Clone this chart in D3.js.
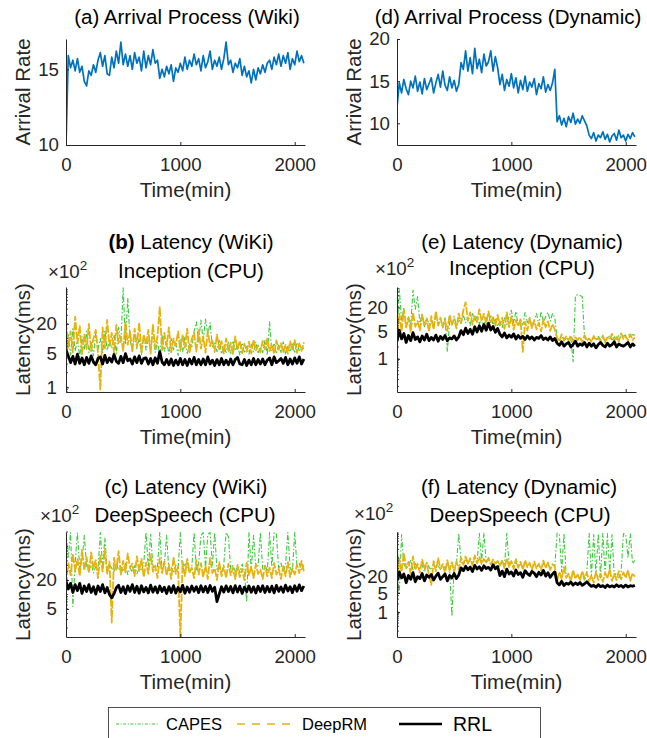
<!DOCTYPE html>
<html>
<head>
<meta charset="utf-8">
<script src="https://cdn.jsdelivr.net/npm/d3@7"></script>
<style>
body { margin: 0; background: #fff; }
text { font-family: "Liberation Sans", Arial, Helvetica, sans-serif; }
</style>
</head>
<body>
<div id="chart-area"></div>
<script>
// sampled every 20 min, 0..2080
var times = d3.range(0, 2081, 20);

var wikiArrival = [10, 15.9, 15.1, 15.6, 14.9, 15.7, 14.8, 15.2, 14.2, 13.9,
    14.9, 14.6, 15.3, 14.8, 15.6, 16.1, 15.2, 15.9, 14.7, 14.6,
    15.8, 15.1, 16.2, 15.4, 16.8, 15.3, 16.0, 15.2, 15.9, 15.0,
    16.1, 15.4, 15.8, 14.9, 16.2, 15.1, 15.9, 15.3, 16.3, 15.4,
    15.6, 14.4, 15.0, 14.5, 15.2, 14.7, 15.3, 14.2, 15.1, 14.8,
    15.4, 14.9, 15.8, 15.0, 15.6, 15.2, 16.0, 15.3, 15.7, 14.9,
    15.9, 15.1, 15.5, 16.2, 15.0, 15.6, 15.2, 15.8, 15.0, 15.7,
    16.8, 15.3, 15.6, 14.8, 15.4, 15.1, 15.7, 14.6, 15.2, 14.5,
    14.9, 14.1, 15.0, 14.3, 15.1, 14.7, 15.3, 14.8, 15.4, 15.6,
    15.0, 15.8, 15.3, 16.0, 15.2, 15.9, 15.4, 16.1, 15.0, 15.7,
    15.3, 16.2, 15.5, 15.9, 15.4];

var dynArrival = [11.9, 14.8, 13.6, 15.2, 14.1, 13.4, 15.0, 14.2, 15.6, 13.8,
    14.9, 13.5, 15.3, 14.0, 14.7, 15.4, 13.6, 14.8, 15.8, 14.3,
    16.2, 14.5, 13.9, 15.5, 14.2, 15.1, 13.8, 14.6, 17.2, 16.4,
    18.6, 16.2, 17.8, 15.9, 18.9, 16.5, 17.6, 16.0, 18.2, 16.8,
    17.3, 18.6, 16.2, 17.9, 16.6, 14.6, 15.8, 13.9, 15.2, 14.4,
    15.9, 14.2, 15.4, 13.6, 15.1, 14.0, 15.6, 13.8, 14.9, 14.3,
    15.3, 13.4, 14.7, 14.1, 15.5, 13.7, 14.6, 13.9, 14.8, 16.4,
    10.2, 10.9, 9.8, 10.6, 9.6, 10.8, 10.1, 11.2, 9.9, 10.5,
    10.0, 10.9, 10.3, 9.7, 8.6, 8.2, 8.9, 7.9, 8.6, 8.3,
    9.0, 8.1, 8.7, 7.8, 8.5, 8.8, 8.0, 9.2, 8.3, 8.6,
    7.9, 8.7, 8.2, 8.9, 8.4];

// latency values in units of 10^2 ms
var wikiIncRRL = [5.8, 4.4, 3.2, 4.3, 3.0, 4.8, 3.1, 4.0, 2.9, 4.1,
    3.1, 4.4, 3.3, 2.9, 3.9, 4.2, 3.0, 4.5, 3.2, 4.0,
    3.3, 4.7, 3.4, 3.1, 4.3, 3.2, 4.9, 3.5, 3.8, 3.0,
    4.2, 3.2, 4.4, 3.1, 3.9, 4.0, 3.0, 3.9, 2.9, 4.0,
    3.1, 5.4, 3.3, 2.9, 3.7, 2.9, 3.8, 2.8, 3.6, 2.9,
    3.9, 2.9, 3.7, 2.8, 3.8, 3.0, 4.1, 2.9, 3.7, 2.9,
    3.8, 2.9, 4.2, 3.0, 3.6, 2.8, 3.7, 2.9, 3.9, 2.9,
    3.6, 2.9, 3.8, 2.9, 3.7, 4.1, 3.0, 2.9, 3.7, 2.8,
    3.6, 2.9, 3.9, 2.9, 3.7, 3.0, 3.8, 2.9, 3.6, 4.0,
    2.9, 4.2, 3.2, 3.5, 3.9, 3.1, 4.1, 2.9, 3.8, 3.0,
    4.0, 3.1, 4.2, 3.0, 3.8];
var wikiIncDeepRM = [22, 6.5, 14, 5.2, 28, 8.0, 18, 4.8, 12, 6.1,
    20, 5.5, 10, 15, 4.9, 0.9, 17, 6.3, 24, 7.2,
    13, 5.0, 19, 8.1, 11, 5.6, 22, 7.4, 14, 5.3,
    16, 6.8, 21, 5.1, 12, 7.6, 15, 4.9, 19, 6.4,
    11, 44, 5.8, 13, 6.9, 17, 5.2, 10, 7.1, 14,
    5.6, 12, 6.5, 16, 5.0, 9.8, 13, 5.4, 15, 6.2,
    11, 5.1, 14, 7.0, 9.5, 5.3, 12, 6.0, 8.8, 4.9,
    10, 5.6, 8.2, 4.8, 11, 6.1, 9.0, 5.0, 7.8, 5.4,
    8.6, 4.9, 9.4, 5.7, 7.2, 5.2, 8.9, 6.0, 10, 5.5,
    7.6, 4.8, 9.1, 5.9, 8.0, 5.3, 7.4, 4.9, 8.7, 5.8,
    9.3, 5.1, 7.9, 5.6, 8.4];
var wikiIncCAPES = [2.3, 12, 4.6, 16, 5.5, 9.5, 4.2, 11, 5.9, 14,
    5.1, 8.7, 4.4, 13, 6.0, 10, 4.8, 15, 5.7, 9.2,
    6.3, 12, 4.9, 17, 8.0, 110, 7.5, 68, 9.8, 5.4,
    13, 6.1, 10, 4.7, 12, 5.8, 9.4, 6.6, 11, 5.2,
    8.3, 4.6, 12, 5.5, 9.0, 4.8, 10, 5.9, 8.2, 4.5,
    9.6, 5.3, 11, 4.9, 7.8, 6.4, 14, 22, 8.5, 24,
    9.1, 25, 12, 21, 6.8, 8.0, 5.4, 9.7, 4.8, 7.1,
    5.2, 8.4, 4.7, 9.0, 5.6, 7.3, 4.6, 8.1, 5.0, 6.9,
    4.8, 7.7, 5.3, 8.5, 4.9, 6.8, 5.1, 9.2, 4.6, 22,
    5.5, 8.0, 4.9, 7.4, 5.2, 8.6, 4.7, 6.9, 5.3, 7.8,
    5.0, 8.2, 5.6, 7.0, 6.1];

var dynIncRRL = [2.8, 5.3, 3.2, 4.4, 2.6, 3.9, 2.9, 4.6, 3.1, 3.6,
    2.7, 3.8, 3.0, 4.2, 2.9, 3.5, 3.0, 4.0, 2.8, 3.7,
    3.1, 3.9, 2.9, 3.4, 3.2, 3.8, 3.0, 3.6, 5.2, 4.1,
    6.0, 4.4, 5.6, 4.2, 6.5, 4.8, 6.9, 5.0, 7.4, 5.3,
    8.0, 5.4, 6.6, 4.7, 5.9, 4.2, 3.6, 4.5, 3.4, 4.0,
    3.5, 4.3, 3.2, 3.9, 3.3, 3.7, 3.1, 3.8, 3.2, 3.6,
    3.0, 3.5, 3.3, 3.9, 3.1, 3.4, 3.0, 3.6, 2.9, 3.3,
    2.5, 2.2, 2.7, 2.1, 2.4, 2.6, 2.0, 2.3, 2.8, 2.1,
    2.4, 2.2, 2.6, 2.0, 2.5, 2.1, 2.4, 1.9, 2.3, 2.6,
    2.2, 2.0, 2.5, 2.1, 2.3, 2.7, 2.0, 2.4, 2.2, 2.1,
    2.3, 2.6, 2.0, 2.4, 2.1];
var dynIncDeepRM = [2.5, 14, 5.0, 18, 6.2, 11, 4.8, 15, 6.5, 9.0,
    5.3, 13, 6.8, 10, 4.9, 12, 5.6, 16, 7.0, 11,
    6.2, 9.5, 5.1, 13, 7.3, 10, 5.9, 14, 8.0, 17,
    27, 9.2, 15, 7.4, 12, 8.6, 18, 9.0, 14, 7.8,
    16, 8.4, 12, 6.9, 13, 7.0, 11, 5.8, 15, 6.4,
    12, 5.5, 9.6, 6.7, 10, 1.5, 8.8, 5.2, 11, 6.0,
    9.4, 5.6, 8.2, 4.9, 10, 6.3, 8.9, 5.1, 7.6, 5.4,
    3.4, 2.8, 4.2, 3.0, 3.7, 2.9, 3.9, 2.7, 3.5, 3.0,
    3.6, 2.6, 4.0, 2.9, 3.3, 2.7, 3.8, 3.0, 3.4, 2.8,
    3.9, 2.6, 3.5, 3.1, 4.3, 2.9, 3.6, 2.8, 4.4, 3.2,
    3.7, 2.9, 4.2, 3.0, 3.5];
var dynIncCAPES = [4.0, 60, 9.0, 20, 6.0, 12, 7.0, 55, 18, 38,
    8.0, 14, 6.5, 11, 7.5, 9.5, 6.0, 13, 7.2, 10,
    6.8, 11, 1.5, 9.0, 7.0, 12, 6.4, 10, 7.8, 13,
    8.2, 11, 7.0, 14, 9.0, 12, 7.6, 10, 6.8, 11,
    8.0, 13, 7.2, 10, 6.6, 9.0, 6.2, 11, 7.4, 12,
    17, 8.0, 16, 6.9, 10, 7.2, 15, 8.4, 11, 6.5,
    9.8, 14, 7.0, 16, 8.0, 12, 15, 9.0, 14, 11,
    3.2, 2.9, 3.6, 2.8, 3.3, 3.0, 3.4, 0.85, 40, 42,
    40, 38, 3.5, 3.0, 3.2, 2.9, 3.4, 3.0, 3.7, 3.1,
    3.5, 2.8, 3.3, 3.9, 3.0, 3.6, 3.1, 4.0, 3.3, 3.8,
    4.0, 4.1, 3.9, 4.1, 4.0];

var wikiDsRRL = [19, 13, 17, 11, 16, 12, 17, 10.5, 15, 11.5,
    16, 11, 14.5, 10.2, 15, 11.5, 16, 10.8, 14, 10,
    8.5, 10.4, 13.8, 15.5, 11, 14.5, 10.4, 15, 11.6, 16,
    11, 14.8, 10.6, 15.2, 11.3, 14, 10.8, 15.6, 11.2, 14.4,
    10.8, 15, 11.5, 14.2, 10.5, 14.6, 11, 15.3, 10.7, 14,
    11.4, 15.5, 10.6, 14.3, 11.1, 15, 11.7, 14.5, 10.9, 15.2,
    11.3, 14.7, 11, 15.4, 11.6, 14.1, 7.1, 10.2, 14.5, 11.2,
    15.1, 11.5, 14.6, 10.8, 15.3, 11.2, 14.9, 10.5, 14.2, 11.4,
    15, 11.1, 14.4, 10.7, 14.8, 11.5, 15.2, 11, 14.6, 11.3,
    14.9, 10.8, 15.4, 11.6, 14.3, 11.1, 15.6, 11.8, 14.5, 10.9,
    15.2, 11.7, 15.8, 12, 15];
var wikiDsDeepRM = [16, 45, 25, 70, 30, 55, 24, 85, 32, 60,
    28, 75, 35, 52, 22, 65, 30, 90, 27, 48,
    2.6, 58, 33, 80, 26, 50, 29, 72, 36, 44,
    24, 62, 31, 55, 23, 46, 27, 68, 30, 40,
    22, 57, 28, 49, 25, 42, 21, 60, 27, 38,
    1.2, 48, 24, 55, 29, 36, 22, 52, 26, 45,
    23, 40, 21, 58, 28, 35, 20, 47, 24, 39,
    22, 44, 25, 36, 21, 41, 23, 34, 20, 46,
    25, 38, 22, 43, 27, 33, 21, 40, 24, 36,
    22, 45, 26, 34, 21, 39, 24, 47, 23, 35,
    26, 42, 28, 50, 30];
var wikiDsCAPES = [195, 60, 195, 5.6, 45, 195, 35, 50, 170, 40,
    30, 45, 28, 38, 33, 195, 40, 150, 30, 42,
    35, 28, 46, 32, 38, 30, 44, 26, 36, 29,
    40, 27, 35, 31, 45, 195, 36, 180, 40, 32,
    38, 195, 34, 42, 170, 30, 37, 28, 41, 33,
    195, 30, 45, 35, 28, 36, 195, 31, 44, 170,
    195, 35, 180, 195, 40, 195, 33, 38, 29, 42,
    195, 160, 34, 40, 30, 37, 29, 43, 31, 7.0,
    195, 32, 170, 36, 40, 195, 34, 42, 30, 195,
    38, 195, 180, 33, 45, 30, 41, 195, 35, 29,
    195, 37, 44, 33, 40];

var dynDsRRL = [14, 30, 18, 25, 12, 22, 16, 28, 13, 20,
    17, 26, 14, 23, 19, 24, 15, 21, 27, 16,
    20, 25, 14, 22, 18, 26, 17, 23, 42, 33,
    48, 36, 45, 31, 52, 38, 46, 34, 50, 40,
    44, 35, 55, 39, 47, 22, 32, 20, 38, 25,
    30, 21, 35, 24, 28, 19, 33, 26, 22, 31,
    27, 20, 29, 23, 34, 21, 28, 19, 25, 30,
    12, 10, 13.5, 9.5, 11.5, 10.5, 12.8, 9.8, 11.8, 10.2,
    12.2, 9.6, 11, 13, 10.4, 8.8, 9.6, 8.2, 10.2, 8.6,
    9.4, 8.0, 9.9, 8.5, 9.2, 8.3, 10.1, 8.7, 9.5, 8.1,
    9.8, 8.4, 9.3, 8.9, 9.6];
var dynDsDeepRM = [12, 90, 30, 150, 40, 70, 25, 110, 35, 60,
    28, 85, 40, 65, 22, 10, 75, 32, 95, 38,
    58, 27, 80, 33, 68, 30, 72, 36, 100, 55,
    110, 60, 95, 52, 120, 62, 105, 58, 90, 65,
    98, 56, 85, 60, 75, 50, 82, 40, 95, 45,
    75, 38, 88, 42, 70, 36, 80, 44, 65, 35,
    72, 40, 60, 34, 78, 42, 66, 35, 58, 48,
    14, 30, 16, 45, 18, 26, 13, 35, 17, 24,
    15, 32, 18, 28, 14, 22, 12, 30, 15, 26,
    13, 28, 17, 38, 14, 25, 15, 32, 16, 29,
    18, 35, 14, 27, 20];
var dynDsCAPES = [800, 5.0, 700, 60, 40, 50, 80, 35, 60, 45,
    40, 55, 30, 65, 45, 35, 60, 42, 50, 38,
    55, 40, 62, 36, 0.7, 45, 60, 780, 70, 55,
    90, 60, 85, 55, 95, 60, 780, 75, 800, 65,
    85, 60, 78, 58, 70, 55, 65, 50, 780, 60,
    65, 50, 70, 45, 60, 45, 65, 50, 55, 40,
    60, 45, 55, 40, 65, 45, 60, 40, 55, 50,
    800, 700, 30, 780, 20, 25, 15, 30, 18, 22,
    16, 26, 14, 28, 780, 20, 700, 24, 750, 18,
    780, 25, 760, 30, 700, 22, 28, 18, 30, 760,
    720, 100, 750, 60, 80];

var legendNames = ["CAPES", "DeepRM", "RRL"];

var colBlue = "#0072BD", colGreen = "#3ccc3c", colGold = "#e8b20e", colBlack = "#000";

var cols = [{ left: 66, right: 305 }, { left: 397, right: 636 }];
var rows = [{ top: 39, bottom: 145 }, { top: 287, bottom: 392 }, { top: 532, bottom: 637 }];

var panels = [
    { col: 0, row: 0, log: false, domain: [10, 17], ticks: [10, 15], ylabel: "Arrival Rate",
      titles: [{ text: "(a) Arrival Process (Wiki)", x: 187, y: 23.5 }],
      series: [{ v: wikiArrival, c: colBlue, w: 1.7 }] },
    { col: 1, row: 0, log: false, domain: [7.43, 20], ticks: [10, 15, 20], ylabel: "Arrival Rate",
      titles: [{ text: "(d) Arrival Process (Dynamic)", x: 508, y: 23.5 }],
      series: [{ v: dynArrival, c: colBlue, w: 1.7 }] },
    { col: 0, row: 1, log: true, domain: [0.8, 114], ticks: [1, 5, 20], ylabel: "Latency(ms)",
      titles: [{ bold: "(b)", text: " Latency (WiKi)", x: 191, y: 248.5 }, { text: "Inception (CPU)", x: 191, y: 277.5 }],
      expo: { x: 48, y: 278 },
      series: [{ v: wikiIncCAPES, c: colGreen, w: 1.1, dash: "5,2,1.5,2" },
               { v: wikiIncDeepRM, c: colGold, w: 1.8, dash: "8,1.5" },
               { v: wikiIncRRL, c: colBlack, w: 2.8 }] },
    { col: 1, row: 1, log: true, domain: [0.145, 66], ticks: [1, 5, 20], ylabel: "Latency(ms)",
      titles: [{ text: "(e) Latency (Dynamic)", x: 522, y: 249 }, { text: "Inception (CPU)", x: 522, y: 275 }],
      expo: { x: 375, y: 275 },
      series: [{ v: dynIncCAPES, c: colGreen, w: 1.1, dash: "5,2,1.5,2" },
               { v: dynIncDeepRM, c: colGold, w: 1.8, dash: "8,1.5" },
               { v: dynIncRRL, c: colBlack, w: 2.8 }] },
    { col: 0, row: 2, log: true, domain: [1.3, 200], ticks: [5, 20], ylabel: "Latency(ms)",
      titles: [{ text: "(c) Latency (WiKi)", x: 186, y: 494 }, { text: "DeepSpeech (CPU)", x: 185, y: 521.7 }],
      expo: { x: 40, y: 522 },
      series: [{ v: wikiDsCAPES, c: colGreen, w: 1.1, dash: "5,2,1.5,2" },
               { v: wikiDsDeepRM, c: colGold, w: 1.8, dash: "8,1.5" },
               { v: wikiDsRRL, c: colBlack, w: 2.8 }] },
    { col: 1, row: 2, log: true, domain: [0.122, 873], ticks: [1, 5, 20], ylabel: "Latency(ms)",
      titles: [{ text: "(f) Latency (Dynamic)", x: 519, y: 494 }, { text: "DeepSpeech (CPU)", x: 520, y: 522 }],
      expo: { x: 354, y: 520 },
      series: [{ v: dynDsCAPES, c: colGreen, w: 1.1, dash: "5,2,1.5,2" },
               { v: dynDsDeepRM, c: colGold, w: 1.8, dash: "8,1.5" },
               { v: dynDsRRL, c: colBlack, w: 2.8 }] }
];

var svg = d3.select("#chart-area").append("svg")
    .attr("width", 647)
    .attr("height", 738);

panels.forEach(function (p, k) {
    var c = cols[p.col], r = rows[p.row];
    var x = d3.scaleLinear().domain([0, 2090]).range([c.left, c.right]);
    var y = (p.log ? d3.scaleLog() : d3.scaleLinear()).domain(p.domain).range([r.bottom, r.top]);

    svg.append("clipPath").attr("id", "clip" + k)
        .append("rect")
        .attr("x", c.left).attr("y", r.top)
        .attr("width", c.right - c.left).attr("height", r.bottom - r.top);

    var g = svg.append("g").attr("clip-path", "url(#clip" + k + ")");
    p.series.forEach(function (s) {
        var line = d3.line()
            .x(function (d, i) { return x(times[i]); })
            .y(function (d) { return y(d); });
        g.append("path")
            .datum(s.v)
            .attr("d", line)
            .attr("fill", "none")
            .attr("stroke", s.c)
            .attr("stroke-width", s.w)
            .attr("stroke-linejoin", "round")
            .attr("stroke-dasharray", s.dash || null);
    });

    // x axis
    var xAxis = d3.axisBottom(x).tickValues([0, 1000, 2000]).tickFormat(d3.format("d"))
        .tickSizeInner(-3).tickSizeOuter(0).tickPadding(13);
    var xg = svg.append("g")
        .attr("transform", "translate(0," + r.bottom + ")")
        .call(xAxis);
    // y axis
    var yAxis = d3.axisLeft(y).tickValues(p.ticks).tickFormat(d3.format("d"))
        .tickSizeInner(-3).tickSizeOuter(0).tickPadding(p.log ? 9 : 7);
    var yg = svg.append("g")
        .attr("transform", "translate(" + c.left + ",0)")
        .call(yAxis);
    [xg, yg].forEach(function (a) {
        a.attr("font-size", 18.7).attr("font-family", null);
        a.selectAll("text").attr("fill", "#262626");
        a.selectAll("line").attr("stroke", "#262626");
        a.select(".domain").attr("stroke", "#262626");
    });

    // log minor ticks
    if (p.log) {
        var minor = [];
        for (var e = Math.floor(Math.log10(p.domain[0])); e <= Math.ceil(Math.log10(p.domain[1])); e++) {
            for (var m = 1; m < 10; m++) {
                var v = m * Math.pow(10, e);
                if (v >= p.domain[0] && v <= p.domain[1]) minor.push(v);
            }
        }
        svg.append("g").selectAll("line").data(minor).enter().append("line")
            .attr("x1", c.left).attr("x2", c.left + 2)
            .attr("y1", function (d) { return y(d); })
            .attr("y2", function (d) { return y(d); })
            .attr("stroke", "#262626").attr("stroke-width", 0.8);
    }

    // axis labels
    svg.append("text")
        .attr("x", (c.left + c.right) / 2)
        .attr("y", r.bottom + 52)
        .attr("text-anchor", "middle")
        .attr("font-size", 20.5)
        .attr("fill", "#262626")
        .text("Time(min)");
    svg.append("text")
        .attr("transform", "translate(" + (c.left - 43) + "," + ((r.top + r.bottom) / 2) + ") rotate(-90)")
        .attr("text-anchor", "middle")
        .attr("dy", "0.35em")
        .attr("font-size", 20.5)
        .attr("fill", "#262626")
        .text(p.ylabel);

    // titles
    p.titles.forEach(function (t) {
        var tt = svg.append("text")
            .attr("x", t.x).attr("y", t.y)
            .attr("text-anchor", "middle")
            .attr("font-size", 20.5)
            .attr("fill", "#000");
        if (t.bold) tt.append("tspan").attr("font-weight", "bold").text(t.bold);
        tt.append("tspan").text(t.text);
    });

    if (p.expo) {
        var ex = svg.append("text")
            .attr("x", p.expo.x).attr("y", p.expo.y)
            .attr("font-size", 18.7)
            .attr("fill", "#262626");
        ex.append("tspan").text("\u00d710");
        ex.append("tspan").attr("dy", -8).attr("font-size", 13.5).text("2");
    }
});

// legend
var lg = svg.append("g");
lg.append("rect")
    .attr("x", 108.5).attr("y", 707.5)
    .attr("width", 432).attr("height", 40)
    .attr("fill", "#fff").attr("stroke", "#262626").attr("stroke-width", 0.8);
var legendItems = [
    { name: legendNames[0], c: colGreen, w: 1.2, dash: "3,1.6,1,1.6", x1: 116, x2: 159, tx: 166, fs: 16.5 },
    { name: legendNames[1], c: colGold, w: 1.6, dash: "8,7", x1: 237, x2: 294, tx: 302, fs: 16.5 },
    { name: legendNames[2], c: colBlack, w: 2.5, dash: null, x1: 399, x2: 442, tx: 453, fs: 19.5 }
];
legendItems.forEach(function (d) {
    lg.append("line")
        .attr("x1", d.x1).attr("x2", d.x2)
        .attr("y1", 724).attr("y2", 724)
        .attr("stroke", d.c).attr("stroke-width", d.w)
        .attr("stroke-dasharray", d.dash);
    lg.append("text")
        .attr("x", d.tx).attr("y", 724 + d.fs * 0.36)
        .attr("font-size", d.fs)
        .attr("fill", "#000")
        .text(d.name);
});
</script>
</body>
</html>
